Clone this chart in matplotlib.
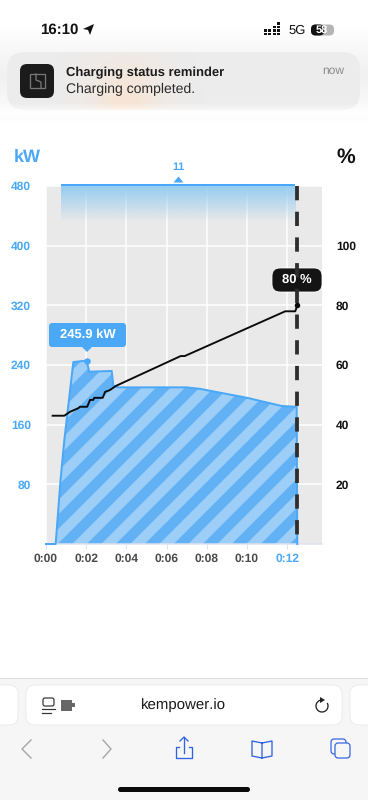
import numpy as np
import matplotlib
matplotlib.use("Agg")
import matplotlib.pyplot as plt
from matplotlib.colors import to_rgb
from matplotlib.patches import FancyBboxPatch, Polygon, Rectangle, Arc

DPI = 174  # the hatch tile follows dpi, this gives the 29 px stripe period
BLUE = "#4aa8f7"
LIGHT = "#97cdf8"
STRIPE = "#60b0f5"
GREY_BG = "#e9e9e9"
CHROME_BLUE = "#2f62e0"

# power curve (minutes, kW)
power_t = [0, 0.48, 0.73, 0.91, 1.36, 2.02, 2.15, 3.27, 3.35, 3.6, 7.0, 7.66, 10.0, 11.73, 12.47, 12.5]
power_kw = [0, 0, 88, 139, 244, 245.9, 231, 232, 212, 210, 210, 208, 196, 185, 184, 0]

# state of charge (minutes, %)
soc_t = [0.33, 0.91, 1.19, 1.6, 1.69, 2.05, 2.19, 2.35, 2.4, 2.82, 2.94, 3.18, 3.48, 6.7, 6.9, 11.9, 12.4, 12.5]
soc_pct = [43, 43, 44.3, 45.5, 46, 46, 48.3, 48.3, 49, 49, 51, 51.6, 53, 63, 63, 78, 78, 80]

kw_ticks = [80, 160, 240, 320, 400, 480]
pct_ticks = [20, 40, 60, 80, 100]
time_ticks = [0, 2, 4, 6, 8, 10, 12]
time_labels = ["0:00", "0:02", "0:04", "0:06", "0:08", "0:10", "0:12"]

finish_t = 12.5
peak_t, peak_kw = 2.02, 245.9
band_t = [0.75, 12.4]
marker_t = 6.57


def px(n):
    return n * 72 / DPI


def reset_bg():
    bg.set_xlim(0, 368)
    bg.set_ylim(800, 0)


plt.rcParams["font.family"] = ["Liberation Sans", "DejaVu Sans"]
plt.rcParams["hatch.linewidth"] = px(10.3)
plt.rcParams["text.hinting"] = "no_hinting"
plt.rcParams["text.hinting_factor"] = 1

fig = plt.figure(figsize=(368 / DPI, 800 / DPI), dpi=DPI, facecolor="white")

# phone chrome in pixel coordinates
bg = fig.add_axes([0, 0, 1, 1])
reset_bg()
bg.axis("off")

# blurred status area and notification card
fade = np.ones((60, 1, 4))
fade[:, :, :3] = 0.93
fade[:, 0, 3] = np.concatenate([np.linspace(0, 0.8, 30), np.linspace(0.8, 0, 30)])
bg.imshow(fade, extent=(0, 368, 125, 25), aspect="auto", zorder=1)
reset_bg()

card = FancyBboxPatch((7, 52), 353, 58, boxstyle="round,pad=0,rounding_size=18",
                      fc="#ececec", ec="none", zorder=2)
bg.add_patch(card)
xx = np.linspace(0, 368, 200)
glow = np.ones((80, 200, 4))
glow[:, :, :3] = [1.0, 0.88, 0.78]
yy = np.linspace(0, 1, 80)[:, None]
glow[:, :, 3] = 0.75 * np.exp(-((xx[None, :] - 125) / 35) ** 2) * (0.2 + 0.8 * yy)
im = bg.imshow(glow, extent=(0, 368, 115, 52), aspect="auto", zorder=2.5)
im.set_clip_path(card)
reset_bg()
bottom_fade = np.ones((14, 1, 4))
bottom_fade[:, 0, 3] = np.linspace(0, 1, 14)
bg.imshow(bottom_fade, extent=(0, 368, 116, 102), aspect="auto", zorder=3)
reset_bg()

bg.text(40, 30, "16:10", fontsize=px(15.5), fontweight="bold", color="#111111", va="center", zorder=4)
bg.add_patch(Polygon([(83, 29), (94, 24), (90, 35), (88, 30)], fc="#111111", zorder=4))
for i, h in enumerate([2, 2, 3, 4]):
    for j in range(h):
        bg.add_patch(Rectangle((264 + i * 4.4, 32.5 - j * 3.4), 2.8, 2.6, fc="#111111", ec="none", zorder=4))
bg.text(288, 30.5, "5G", fontsize=px(13.5), color="#111111", va="center", zorder=4)
bg.add_patch(FancyBboxPatch((311, 24.5), 23, 11, boxstyle="round,pad=0,rounding_size=4.5", fc="#b5b5b5", ec="none", zorder=4))
bg.add_patch(FancyBboxPatch((311, 24.5), 13, 11, boxstyle="round,pad=0,rounding_size=4.5", fc="#111111", ec="none", zorder=4))
bg.text(322, 30, "58", fontsize=px(11), fontweight="bold", color="white", ha="center", va="center", zorder=5)

bg.add_patch(FancyBboxPatch((20, 64), 34, 34, boxstyle="round,pad=0,rounding_size=7", fc="#1b1b1b", ec="none", zorder=4))
bg.add_patch(Rectangle((30, 74), 15, 14, fc="none", ec="#777777", lw=px(1.3), zorder=5))
bg.plot([36, 36, 41, 41], [74, 80, 82, 88], color="#777777", lw=px(1.3), zorder=5)
bg.text(66, 72.5, "Charging status reminder", fontsize=px(13.4), fontweight="bold", color="#1c1c1c", va="center", zorder=4)
bg.text(66, 89, "Charging completed.", fontsize=px(13.6), color="#2a2a2a", va="center", zorder=4)
bg.text(344, 71, "now", fontsize=px(12), color="#8a8a8a", ha="right", va="center", zorder=4)

# bottom browser toolbar
bg.add_patch(Rectangle((0, 678), 368, 122, fc="#f6f6f6", ec="none", zorder=1))
bg.plot([0, 368], [677.5, 677.5], color="#dddddd", lw=px(1), zorder=2)
for x0, w in [(-30, 48), (26, 316), (350, 60)]:
    bg.add_patch(FancyBboxPatch((x0, 685), w, 40, boxstyle="round,pad=0,rounding_size=9",
                                fc="white", ec="#ececec", lw=px(1), zorder=2))
bg.text(184, 705.5, "kempower.io", fontsize=px(15.5), color="#1a1a1a", ha="center", va="center", zorder=3)
bg.add_patch(FancyBboxPatch((43, 698), 11, 8, boxstyle="round,pad=0,rounding_size=2", fc="none", ec="#333333", lw=px(1.2), zorder=3))
bg.plot([42, 55], [709, 709], color="#333333", lw=px(1.2), zorder=3)
bg.plot([42, 51], [713, 713], color="#333333", lw=px(1.2), zorder=3)
bg.add_patch(Rectangle((61, 700), 11, 11, fc="#666666", ec="none", zorder=3))
bg.add_patch(Rectangle((72, 703), 3, 4, fc="#666666", ec="none", zorder=3))
bg.add_patch(Arc((322, 706), 12, 12, theta1=-30, theta2=260, ec="#222222", lw=px(1.3), zorder=3))
bg.add_patch(Polygon([(320, 697), (325, 700), (320, 703)], fc="#222222", zorder=3))
bg.plot([31, 22, 31], [740, 749, 758], color="#a6a6a6", lw=px(1.4), zorder=3)
bg.plot([103, 111, 103], [740, 749, 758], color="#a6a6a6", lw=px(1.4), zorder=3)
bg.plot([179, 176, 176, 192, 192, 189], [747, 747, 758, 758, 747, 747], color=CHROME_BLUE, lw=px(1.3), zorder=3)
bg.plot([184, 184], [738, 753], color=CHROME_BLUE, lw=px(1.3), zorder=3)
bg.plot([180, 184, 188], [741, 737, 741], color=CHROME_BLUE, lw=px(1.3), zorder=3)
bg.plot([262, 252, 252, 262, 262, 272, 272, 262], [743, 741, 756, 758, 743, 741, 756, 758], color=CHROME_BLUE, lw=px(1.3), zorder=3)
bg.add_patch(FancyBboxPatch((331, 739), 15, 15, boxstyle="round,pad=0,rounding_size=3", fc="#f6f6f6", ec=CHROME_BLUE, lw=px(1.2), zorder=3))
bg.add_patch(FancyBboxPatch((335, 743), 15, 15, boxstyle="round,pad=0,rounding_size=3", fc="#f6f6f6", ec=CHROME_BLUE, lw=px(1.2), zorder=4))
bg.add_patch(FancyBboxPatch((118, 787), 132, 5, boxstyle="round,pad=0,rounding_size=2.5", fc="#0a0a0a", ec="none", zorder=3))

# chart
left, right, top, bottom = 46, 322, 186, 544
ax = fig.add_axes([left / 368, 1 - bottom / 800, (right - left) / 368, (bottom - top) / 800])
ax.set_facecolor(GREY_BG)
ax.set_xlim(0, 13.73)
ax.set_ylim(0, 480)
for s in ax.spines.values():
    s.set_visible(False)
ax.spines["bottom"].set_visible(True)
ax.spines["bottom"].set_color("#dde3f0")
ax.spines["bottom"].set_linewidth(px(1.5))
ax.set_axisbelow(True)
ax.grid(True, color="white", lw=px(1.5))
ax.set_xticks(time_ticks)
ax.set_xticklabels(time_labels, fontsize=px(12.3), fontweight="bold", color="#4a4a4a")
ax.get_xticklabels()[-1].set_color(BLUE)
ax.set_yticks(kw_ticks)
ax.set_yticklabels([str(v) for v in kw_ticks], fontsize=px(12.3), fontweight="bold", color=BLUE)
ax.tick_params(axis="x", length=px(5), width=px(1), color="#dde3f0", pad=px(4))
ax.tick_params(axis="y", length=0, pad=px(15))

# session band fading down from the top
grad = np.ones((60, 1, 4))
grad[:, :, :3] = to_rgb("#96cdf0")
grad[:, 0, 3] = np.linspace(1, 0, 60)
ax.imshow(grad, extent=(band_t[0], band_t[1], 432, 480), aspect="auto", zorder=1.5)
ax.set_xlim(0, 13.73)
ax.set_ylim(0, 480)
ax.plot(band_t, [481.5, 481.5], color=BLUE, lw=px(2), clip_on=False, solid_capstyle="butt", zorder=2)
ax.plot([marker_t], [489], marker=[(-1, -0.6), (1, -0.6), (0, 0.6)], ms=px(10), color=BLUE, mew=0, clip_on=False, zorder=2)
ax.text(marker_t, 505, "11", fontsize=px(11), fontweight="bold", color=BLUE, ha="center", va="center")

ax.fill_between(power_t, power_kw, 0, facecolor=LIGHT, edgecolor=STRIPE, hatch="//", linewidth=0, alpha=0.94, zorder=2)
ax.plot(power_t, power_kw, color=BLUE, lw=px(2), zorder=3, clip_on=False)

ax2 = ax.twinx()
ax2.patch.set_visible(False)
ax2.set_ylim(0, 120)
for s in ax2.spines.values():
    s.set_visible(False)
ax2.set_yticks(pct_ticks)
ax2.set_yticklabels([str(v) for v in pct_ticks], fontsize=px(12.3), fontweight="bold", color="#111111")
ax2.tick_params(axis="y", length=0, pad=px(14))

ax2.plot(soc_t, soc_pct, color="#0a0a0a", lw=px(1.9), zorder=4, solid_joinstyle="round")
ax2.plot([soc_t[-1]], [soc_pct[-1]], "o", ms=px(5.5), color="#0a0a0a", mew=0, zorder=6)

# 245.9 kW callout
ax2.add_patch(FancyBboxPatch((49, 323), 77, 24, boxstyle="round,pad=0,rounding_size=3", fc=BLUE, ec="none",
                             transform=bg.transData, clip_on=False, zorder=5))
ax2.add_patch(Polygon([(81, 346), (93, 346), (87, 352)], fc=BLUE, ec="none", transform=bg.transData, clip_on=False, zorder=5))
ax2.text(87.5, 335, f"{peak_kw} kW", fontsize=px(12.5), fontweight="bold", color="white", ha="center", va="center",
         transform=bg.transData, zorder=7)
ax2.plot([peak_t], [peak_kw / 4], "o", ms=px(6.5), color=BLUE, mew=0, zorder=4.5)

# 80 % callout, the dashed finish line runs across it
ax2.add_patch(FancyBboxPatch((272, 268), 50, 24, boxstyle="round,pad=0,rounding_size=8", fc="#141414", ec="white", lw=px(0.8),
                             transform=bg.transData, clip_on=False, zorder=5))
ax2.plot([finish_t, finish_t], [120, 0], color="#2e2e2e", lw=px(3.8), linestyle=(0, (14.3 / 3.8, 11.4 / 3.8)),
         dash_capstyle="butt", zorder=5.5)
ax2.text(297, 280, "80 %", fontsize=px(12.5), fontweight="bold", color="white", ha="center", va="center",
         transform=bg.transData, zorder=7)

fig.text(14 / 368, 1 - 157 / 800, "kW", fontsize=px(18.5), fontweight="bold", color=BLUE, va="center")
fig.text(336 / 368, 1 - 157 / 800, "%", fontsize=px(21), fontweight="bold", color="#111111", va="center")

fig.savefig("out.png", dpi=DPI)
